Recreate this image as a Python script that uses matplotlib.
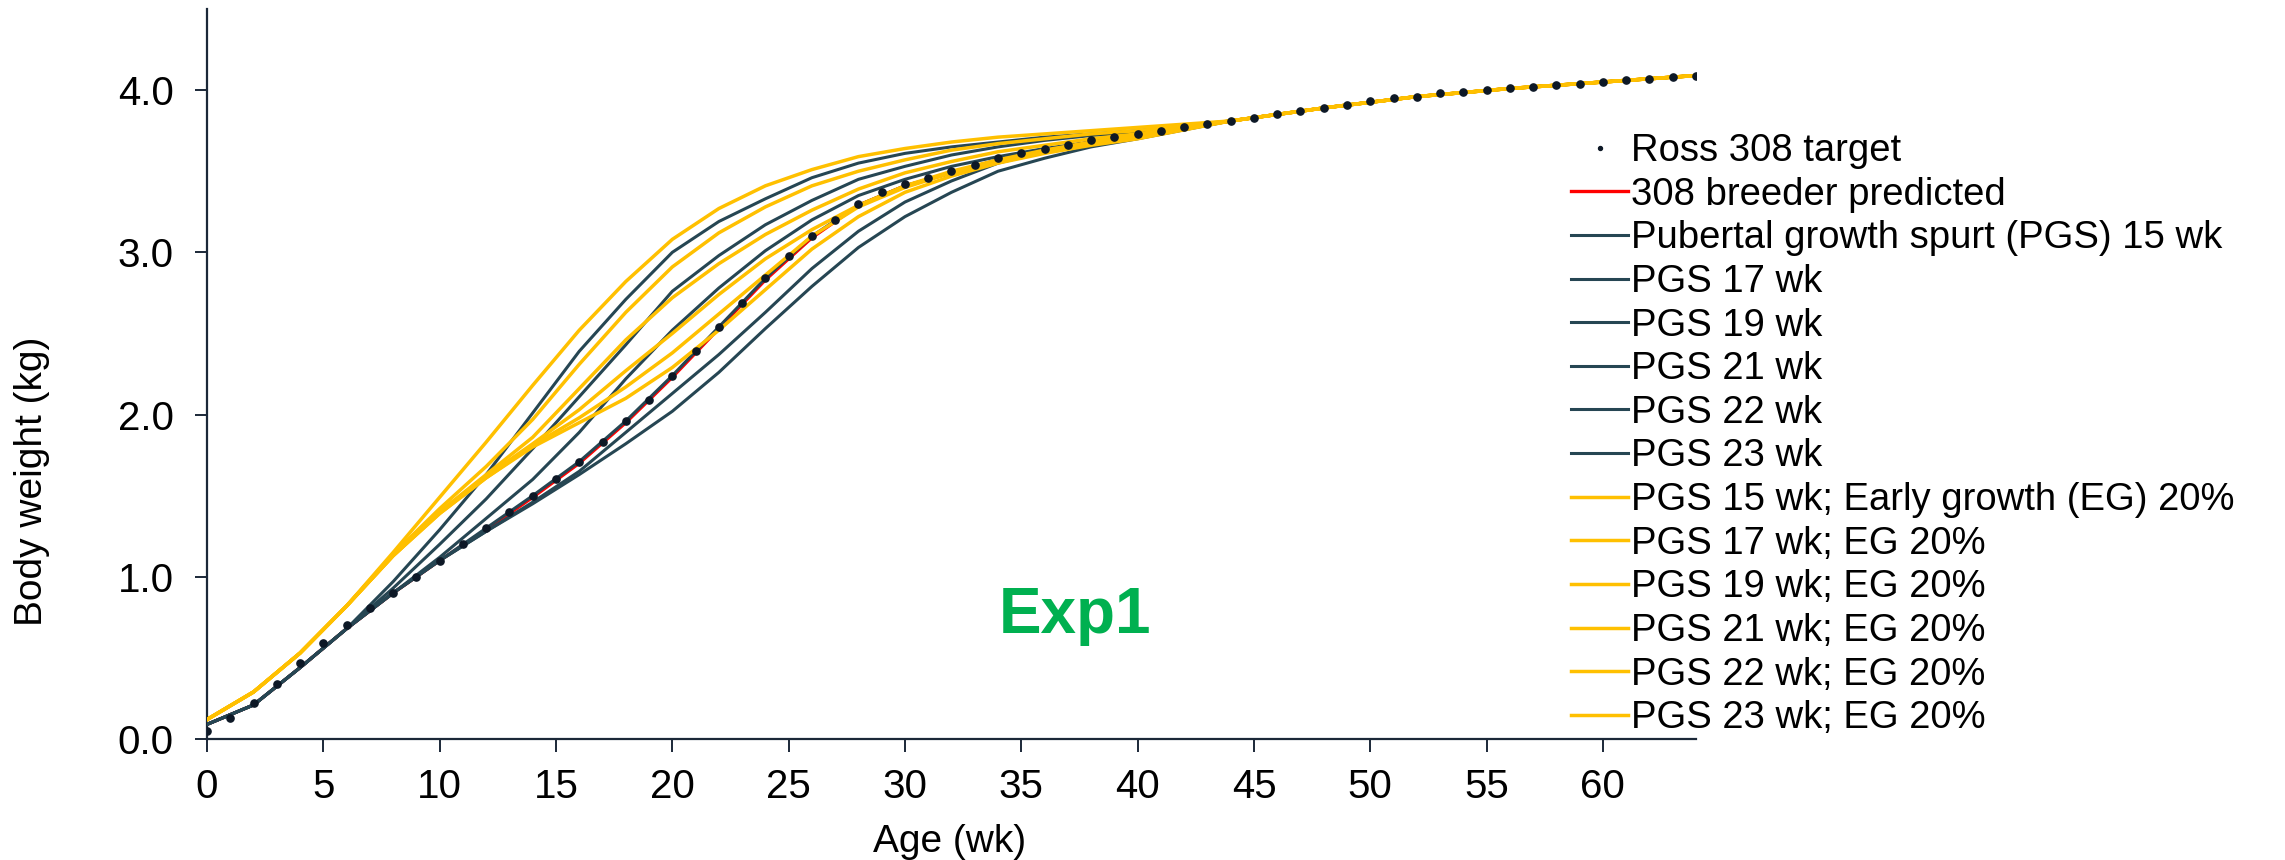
import matplotlib
matplotlib.use('Agg')
import matplotlib.pyplot as plt

plt.rcParams['font.family'] = ['Liberation Sans', 'DejaVu Sans']

# weekly Ross 308 target (dots), weeks 0..64
target_wk = list(range(0, 65))
target_bw = [0.05, 0.13, 0.22, 0.34, 0.47, 0.59, 0.70, 0.81, 0.90, 1.00,
             1.10, 1.20, 1.30, 1.40, 1.50, 1.60, 1.71, 1.83, 1.96, 2.09,
             2.24, 2.39, 2.54, 2.69, 2.84, 2.98, 3.10, 3.20, 3.30, 3.37,
             3.42, 3.46, 3.50, 3.54, 3.58, 3.61, 3.64, 3.66, 3.69, 3.71,
             3.73, 3.75, 3.77, 3.79, 3.81, 3.83, 3.85, 3.87, 3.89, 3.91,
             3.93, 3.95, 3.96, 3.98, 3.99, 4.00, 4.01, 4.02, 4.03, 4.04,
             4.05, 4.06, 4.07, 4.08, 4.09]

# model curves read at these ages
wk = [0, 2, 4, 6, 8, 10, 12, 14, 16, 18, 20, 22, 24, 26, 28, 30, 32, 34, 36, 38, 40,
      44, 48, 52, 56, 60, 64]
tail = [3.81, 3.89, 3.96, 4.01, 4.05, 4.09]

predicted = [0.09, 0.21, 0.44, 0.68, 0.90, 1.10, 1.29, 1.49, 1.70, 1.95, 2.23, 2.53, 2.83,
             3.09, 3.29, 3.41, 3.49, 3.57, 3.63, 3.68, 3.72] + tail

pgs15 = [0.09, 0.21, 0.44, 0.68, 0.97, 1.29, 1.63, 2.01, 2.39, 2.71, 3.00, 3.19, 3.33,
         3.46, 3.55, 3.61, 3.65, 3.68, 3.71, 3.73, 3.75] + tail
pgs17 = [0.09, 0.21, 0.44, 0.68, 0.93, 1.20, 1.48, 1.79, 2.11, 2.43, 2.76, 2.98, 3.17,
         3.32, 3.45, 3.53, 3.60, 3.65, 3.69, 3.72, 3.74] + tail
pgs19 = [0.09, 0.21, 0.44, 0.68, 0.90, 1.12, 1.36, 1.60, 1.89, 2.22, 2.52, 2.78, 3.01,
         3.20, 3.35, 3.45, 3.53, 3.59, 3.64, 3.68, 3.72] + tail
pgs21 = [0.09, 0.21, 0.44, 0.68, 0.90, 1.10, 1.30, 1.50, 1.71, 1.96, 2.24, 2.54, 2.84,
         3.10, 3.29, 3.41, 3.49, 3.57, 3.63, 3.68, 3.72] + tail
pgs22 = [0.09, 0.21, 0.44, 0.68, 0.90, 1.10, 1.28, 1.46, 1.65, 1.89, 2.13, 2.37, 2.63,
         2.90, 3.13, 3.31, 3.44, 3.55, 3.62, 3.67, 3.71] + tail
pgs23 = [0.09, 0.21, 0.44, 0.68, 0.90, 1.10, 1.28, 1.45, 1.63, 1.82, 2.02, 2.26, 2.53,
         2.79, 3.03, 3.22, 3.37, 3.50, 3.58, 3.65, 3.70] + tail

eg15 = [0.12, 0.29, 0.53, 0.82, 1.15, 1.49, 1.83, 2.18, 2.52, 2.82, 3.08, 3.27, 3.41,
        3.51, 3.59, 3.64, 3.68, 3.71, 3.73, 3.75, 3.77] + tail
eg17 = [0.12, 0.29, 0.53, 0.82, 1.14, 1.42, 1.68, 1.97, 2.31, 2.63, 2.91, 3.12, 3.28,
        3.41, 3.50, 3.57, 3.63, 3.67, 3.70, 3.73, 3.75] + tail
eg19 = [0.12, 0.29, 0.53, 0.82, 1.13, 1.40, 1.63, 1.86, 2.16, 2.46, 2.72, 2.93, 3.11,
        3.26, 3.39, 3.49, 3.56, 3.62, 3.66, 3.70, 3.73] + tail
eg21 = [0.12, 0.29, 0.53, 0.82, 1.13, 1.40, 1.62, 1.82, 2.03, 2.27, 2.50, 2.74, 2.96,
        3.14, 3.29, 3.41, 3.50, 3.57, 3.63, 3.68, 3.72] + tail
eg22 = [0.12, 0.29, 0.53, 0.82, 1.13, 1.39, 1.61, 1.81, 1.98, 2.17, 2.38, 2.62, 2.86,
        3.10, 3.28, 3.40, 3.49, 3.56, 3.62, 3.67, 3.71] + tail
eg23 = [0.12, 0.29, 0.53, 0.82, 1.13, 1.39, 1.61, 1.80, 1.95, 2.10, 2.29, 2.52, 2.77,
        3.02, 3.22, 3.37, 3.47, 3.55, 3.61, 3.66, 3.70] + tail

dark_series = [pgs15, pgs17, pgs19, pgs21, pgs22, pgs23]
dark_labels = ['Pubertal growth spurt (PGS) 15 wk', 'PGS 17 wk', 'PGS 19 wk',
               'PGS 21 wk', 'PGS 22 wk', 'PGS 23 wk']
eg_series = [eg15, eg17, eg19, eg21, eg22, eg23]
eg_labels = ['PGS 15 wk; Early growth (EG) 20%', 'PGS 17 wk; EG 20%', 'PGS 19 wk; EG 20%',
             'PGS 21 wk; EG 20%', 'PGS 22 wk; EG 20%', 'PGS 23 wk; EG 20%']

dark = '#264653'
gold = '#FFC000'
axcol = '#1B2838'

fig = plt.figure(figsize=(22.85, 8.6), dpi=100)
ax = fig.add_axes([207 / 2285, 121 / 860, 1489 / 2285, 730 / 860])

h_pred, = ax.plot(wk, predicted, color='#FF0000', lw=2.4, label='308 breeder predicted',
                  zorder=2, solid_joinstyle='round')
h_dark = []
for s, lab in zip(dark_series, dark_labels):
    h, = ax.plot(wk, s, color=dark, lw=2.2, label=lab, zorder=3, solid_joinstyle='round')
    h_dark.append(h)
h_eg = []
for s, lab in zip(eg_series, eg_labels):
    h, = ax.plot(wk, s, color=gold, lw=2.5, label=lab, zorder=4, solid_joinstyle='round')
    h_eg.append(h)
h_tgt, = ax.plot(target_wk, target_bw, 'o', color='#0D1826', ms=5.2, ls='none',
                 label='Ross 308 target', zorder=5)

ax.set_xlim(0, 64)
ax.set_ylim(0, 4.5)
ax.set_xticks(range(0, 61, 5))
ax.set_yticks([0, 1, 2, 3, 4])
ax.set_yticklabels(['0.0', '1.0', '2.0', '3.0', '4.0'])
for side in ['top', 'right']:
    ax.spines[side].set_visible(False)
for side in ['left', 'bottom']:
    ax.spines[side].set_color(axcol)
    ax.spines[side].set_linewidth(1.6)
ax.tick_params(axis='both', direction='out', length=9, width=1.4, color=axcol,
               labelsize=29)
ax.tick_params(axis='y', pad=15)
ax.tick_params(axis='x', pad=12)

# axis titles placed where the reference has them
fig.text(950 / 2285, 1 - 842 / 860, 'Age (wk)', fontsize=28, ha='center', va='center')
fig.text(32 / 2285, 1 - 481 / 860, 'Body weight (kg)', fontsize=28, rotation=90,
         ha='center', va='center')

ax.text(37.3, 0.76, 'Exp1', color='#00B050', fontsize=46, fontweight='bold',
        ha='center', va='center')

handles = [h_tgt, h_pred] + h_dark + h_eg
leg = fig.legend(handles=handles, loc='upper left', bbox_to_anchor=(1571 / 2285, 1 - 133 / 860),
                 frameon=False, fontsize=27.5, handlelength=1.5, handletextpad=0.08,
                 labelspacing=0.2, borderpad=0, borderaxespad=0, markerscale=0.55)

fig.savefig('out.png', dpi=100)
